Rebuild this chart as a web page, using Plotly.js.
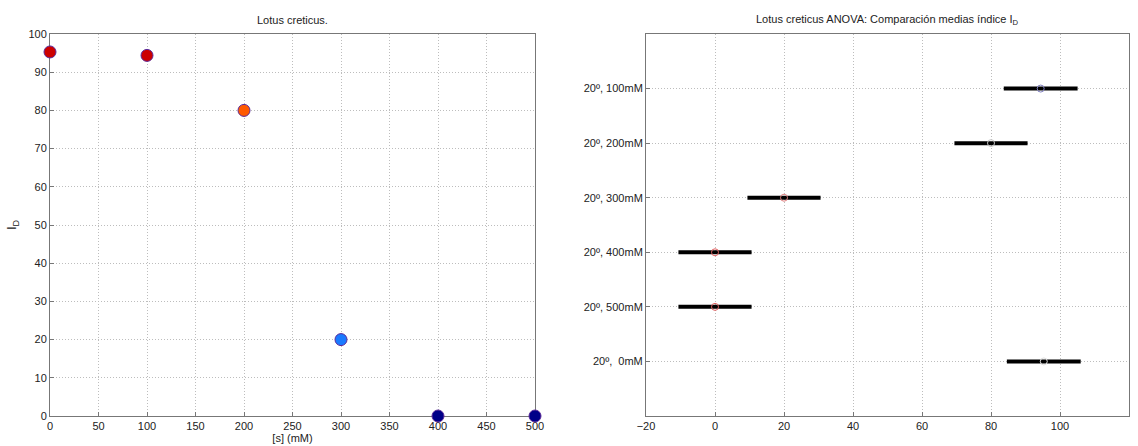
<!DOCTYPE html>
<html><head><meta charset="utf-8">
<script src="https://cdn.plot.ly/plotly-3.0.1.min.js"></script>
<style>html,body{margin:0;padding:0;background:#fff}#c{width:1138px;height:446px}</style>
</head><body><div id="c"></div>
<script>
// Left panel data
const concentrations = [0, 100, 200, 300, 400, 500];
const indexValues = [95.3, 94.4, 80, 20, 0, 0];
const pointColors = ['#cc0000', '#cc0000', '#ff5a00', '#1a7aff', '#000088', '#000088'];

// Right panel data (ANOVA multiple comparison)
const groupLabels = ['20º, 100mM', '20º, 200mM', '20º, 300mM', '20º, 400mM', '20º, 500mM', '20º,\u00a0\u00a00mM'];
const groupMeans = [94.4, 80, 20, 0, 0, 95.3];
const groupHalfWidths = [10.7, 10.6, 10.6, 10.6, 10.6, 10.7];
const groupMarkerColors = ['#8080c0', '#c8c8c8', '#e08080', '#e06060', '#e06060', '#e0e0e0'];
const groupPositions = [1, 2, 3, 4, 5, 6];

const W = 1138, H = 446;
const yTop = 1 - 34 / H, yBot = 1 - 416 / H;
const font = {family: 'Liberation Sans, Arial, sans-serif', size: 11, color: '#222'};

const axisCommon = {
  showline: true, linecolor: '#777', linewidth: 1, mirror: true,
  ticks: 'inside', ticklen: 4, tickcolor: '#777', layer: 'below traces',
  showgrid: true, gridcolor: '#bdbdbd', griddash: '1px,2px', gridwidth: 1,
  zeroline: false, tickfont: font
};

const traces = [
  {
    type: 'scatter', mode: 'markers', x: concentrations, y: indexValues,
    xaxis: 'x', yaxis: 'y',
    marker: {size: 12, color: pointColors, line: {color: '#5a2a9a', width: 1}},
    showlegend: false, cliponaxis: false
  },
  {
    type: 'scatter', mode: 'markers', x: groupMeans, y: groupPositions,
    xaxis: 'x2', yaxis: 'y2',
    error_x: {type: 'data', array: groupHalfWidths, symmetric: true, color: '#000', thickness: 4, width: 0},
    marker: {size: 1, color: 'rgba(0,0,0,0)'},
    showlegend: false
  },
  {
    type: 'scatter', mode: 'markers', x: groupMeans, y: groupPositions,
    xaxis: 'x2', yaxis: 'y2',
    marker: {size: 7, symbol: 'circle-open', color: groupMarkerColors, line: {width: 1}},
    showlegend: false
  }
];

const layout = {
  width: W, height: H,
  margin: {l: 0, r: 0, t: 0, b: 0},
  paper_bgcolor: '#fff', plot_bgcolor: '#fff',
  font: font,
  xaxis: Object.assign({}, axisCommon, {
    domain: [50 / W, 535 / W], range: [0, 500], dtick: 50, anchor: 'y',
    title: {text: '[s] (mM)', font: font, standoff: 2}
  }),
  yaxis: Object.assign({}, axisCommon, {
    domain: [yBot, yTop], range: [0, 100], dtick: 10, anchor: 'x',
    title: {text: 'I<sub>D</sub>', font: {family: font.family, size: 13, color: '#222'}, standoff: 8}
  }),
  xaxis2: Object.assign({}, axisCommon, {
    domain: [646 / W, 1129 / W], range: [-20, 120], dtick: 20, anchor: 'y2'
  }),
  yaxis2: Object.assign({}, axisCommon, {
    domain: [yBot, yTop], range: [7, 0], anchor: 'x2',
    tickvals: groupPositions, ticktext: groupLabels
  }),
  annotations: [
    {text: 'Lotus creticus.', xref: 'paper', yref: 'paper', x: 292.5 / W, y: 1 - 20 / H,
     showarrow: false, font: font, xanchor: 'center', yanchor: 'middle'},
    {text: 'Lotus creticus ANOVA: Comparación medias índice I<sub>D</sub>', xref: 'paper', yref: 'paper',
     x: 887 / W, y: 1 - 20 / H, showarrow: false, font: font, xanchor: 'center', yanchor: 'middle'}
  ]
};

Plotly.newPlot('c', traces, layout, {displayModeBar: false, staticPlot: true});
</script>
</body></html>
